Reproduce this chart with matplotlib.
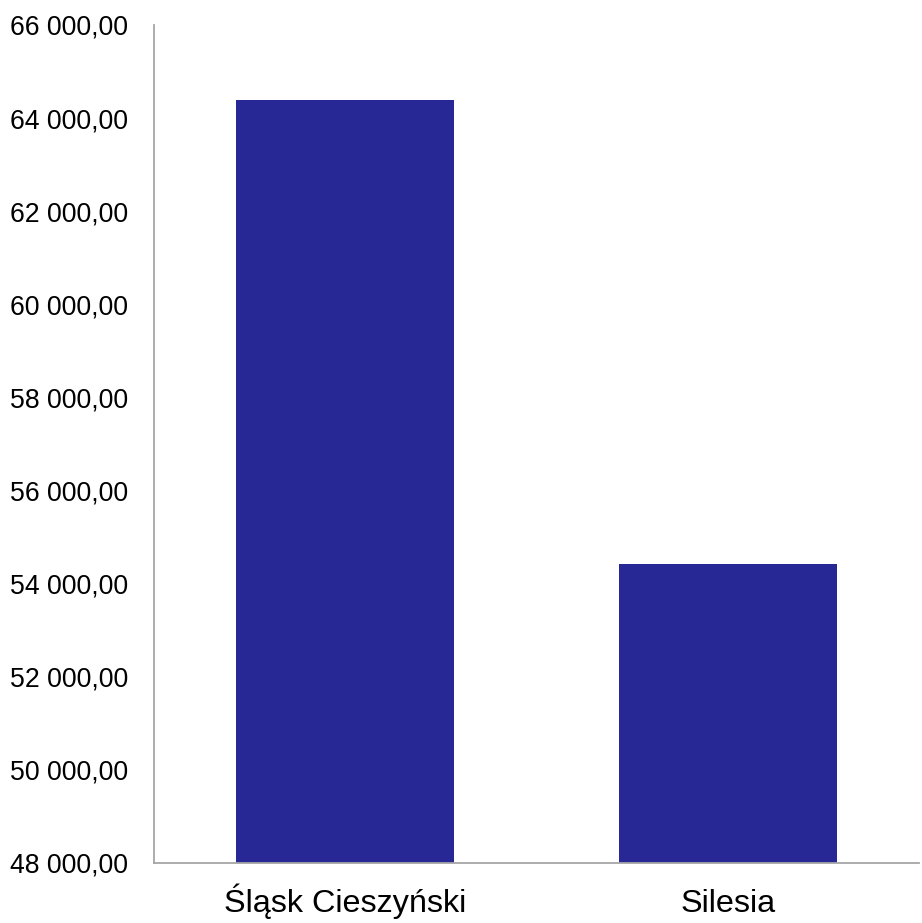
import matplotlib
matplotlib.use("Agg")
import matplotlib.pyplot as plt
from matplotlib.ticker import FuncFormatter

categories = ["Śląsk Cieszyński", "Silesia"]
values = [64390, 54420]
y_ticks = [48000, 50000, 52000, 54000, 56000, 58000, 60000, 62000, 64000, 66000]

plt.rcParams['font.family'] = ['Liberation Sans', 'DejaVu Sans']

fig = plt.figure(figsize=(9.22, 9.23), dpi=100)
ax = fig.add_axes([154/922, 1 - 862.5/923, (919-154)/922, (862.5-25)/923])

x = range(len(categories))
ax.bar(x, values, width=0.57, color='#272795', zorder=2)

ax.set_xlim(-0.5, len(categories) - 0.5)
ax.set_ylim(48000, 66000)
ax.set_yticks(y_ticks)
ax.set_xticks(list(x))
ax.set_xticklabels(categories, fontsize=23.3, va='baseline')

def fmt(v, pos):
    s = f"{v:,.2f}".replace(",", " ").replace(".", ",")
    return s
ax.yaxis.set_major_formatter(FuncFormatter(fmt))
ax.tick_params(axis='y', labelsize=19.2, length=0, pad=18.4)
ax.tick_params(axis='x', length=0, pad=35.9)

for side in ['top', 'right']:
    ax.spines[side].set_visible(False)
for side in ['left', 'bottom']:
    ax.spines[side].set_color('#a6a6a6')
    ax.spines[side].set_linewidth(1.3)

fig.savefig("out.png", dpi=100)
